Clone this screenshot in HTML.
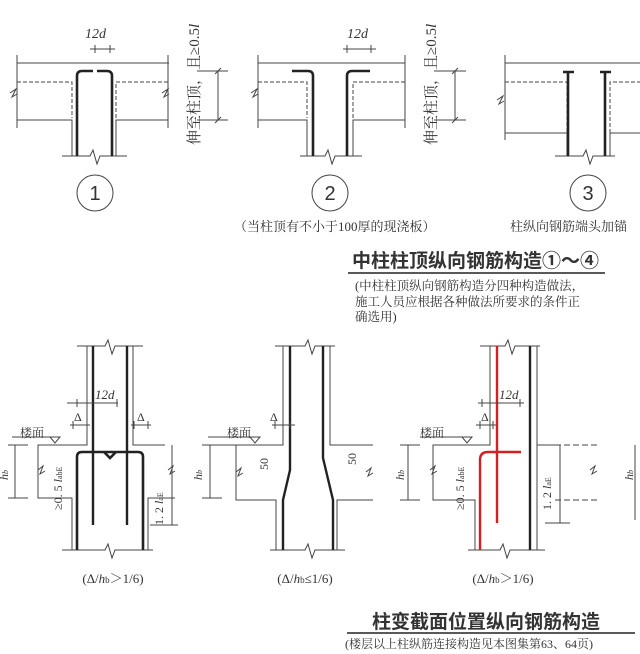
<!DOCTYPE html>
<html><head><meta charset="utf-8"><style>
html,body{margin:0;padding:0;background:#fff;}
svg{display:block;}
text{font-family:"Liberation Serif","Noto Serif CJK SC",serif;fill:#333;}
.s{font-family:"Liberation Sans","Noto Sans CJK SC",sans-serif;}
</style></head><body>
<svg width="640" height="654" viewBox="0 0 640 654" xmlns="http://www.w3.org/2000/svg">
<g fill="none" stroke="#444" stroke-width="1">
<!-- Panel 1 -->
<path d="M17 63H169M17 120H72V156M116 156V120H168M17 55V128M168 55V128"/>
<path d="M17 82H72V118M116 118V82H168" stroke-dasharray="4,2"/>
<path d="M62 156H90l3 -6 4 14 3 -8H127"/>
<path d="M10 93l6 -4 -4 8 5 -3" />
<path d="M162 93l6 -4 -4 8 5 -3" />
<path d="M77 156V76q0 -5 5 -5h11M112 156V76q0 -5 -5 -5h-10" stroke="#222" stroke-width="2.6"/>
<path d="M90 49H115M95 45V53M110 45V53"/>
<path d="M197 71H228M197 120H228M218 71V120M215 74l6 -6M215 123l6 -6"/>
<circle cx="95" cy="193" r="18"/>
<!-- Panel 2 -->
<path d="M258 63H405M258 120H307V156M353 156V120H405M405 55V128M258 55V128"/>
<path d="M258 82H307V118M353 118V82H405" stroke-dasharray="4,2"/>
<path d="M300 156H325l3 -6 4 14 3 -8H362"/>
<path d="M251 93l6 -4 -4 8 5 -3" />
<path d="M313 156V76q0 -5 -5 -5h-16M347 156V76q0 -5 5 -5h18" stroke="#222" stroke-width="2.6"/>
<path d="M343 49H376M347 45V53M371 45V53"/>
<path d="M434 71H466M434 120H466M455 71V120M452 74l6 -6M452 123l6 -6"/>
<circle cx="330" cy="193" r="18"/>
<!-- Panel 3 -->
<path d="M505 63H640M505 133H567V156M610 156V133H640M505 55V140"/>
<path d="M505 82H567V133M610 133V82H640" stroke-dasharray="4,2"/>
<path d="M555 156H583l3 -6 4 14 3 -8H615"/>
<path d="M497 100l6 -4 -4 8 5 -3" />
<path d="M568 156V72M563 72H574M605 156V72M600 72H611" stroke="#222" stroke-width="2.6"/>
<circle cx="588" cy="193" r="18"/>
<path d="M348 273H605" stroke="#222" stroke-width="1.5"/>
<path d="M347 633H635" stroke="#222" stroke-width="1.5"/>

<!-- Panel A -->
<path d="M77 346H105l3 -6 4 14 3 -8H143"/>
<path d="M87 346V445H38V498H72V550M133 346V445H165M148 550V498H175M62 550H105l3 -6 4 14 3 -8H153"/>
<path d="M12 437H58M50 437l5 6 5 -6z"/>
<path d="M93 346V525M127 346V525" stroke="#222" stroke-width="2.4"/>
<path d="M77 550V457q0 -5 5 -5h56q5 0 5 5V550M104 452l6 6 6 -6" stroke="#222" stroke-width="2.6"/>
<path d="M67 403H118M77 399V407M117 399V407M70 425H90M73 421V429M87 421V429M131 425H151M134 421V429M148 421V429"/>
<path d="M8 445H28M8 498H28M15 445V498M38 470l5 -4 -3 8 5 -3M168 470l5 -4 -3 8 5 -3M150 525H178M172 445V525"/>
<!-- Panel B -->
<path d="M275 346H305l3 -6 4 14 3 -8H335"/>
<path d="M283 346V445H208M236 445V500H276V550M330 346V445H373M337 550V500H373M270 550H305l3 -6 4 14 3 -8H345"/>
<path d="M208 437H258M250 437l5 6 5 -6z"/>
<path d="M290 346V470L283 500V550M323 346V458L333 500V550" stroke="#222" stroke-width="2.4"/>
<path d="M272 425H295M275 421V429M290 421V429"/>
<path d="M202 445H222M202 498H222M210 445V498M236 472l5 -4 -3 8 5 -3M366 472l5 -4 -3 8 5 -3"/>
<!-- Panel C -->
<path d="M480 346H505l3 -6 4 14 3 -8H540"/>
<path d="M490 346V445H433V500H475V550M537 346V445H555M468 550H500l3 -6 4 14 3 -8H545"/>
<path d="M537 550V346"/>
<path d="M555 445H600M555 500H600" stroke-dasharray="6,3"/>
<path d="M420 437H470M462 437l5 6 5 -6z"/>
<path d="M530 346V550" stroke="#222" stroke-width="2.4"/>
<path d="M497 346V523M480 550V460q0 -8 8 -8H521" stroke="#d42020" stroke-width="2.4"/>
<path d="M478 403H524M482 399V407M520 399V407M476 425H496M480 421V429M493 421V429"/>
<path d="M400 445H420M400 500H420M408 445V500M430 470l5 -4 -3 8 5 -3M590 470l5 -4 -3 8 5 -3M545 523H570M560 445V523"/>
<path d="M635 445V520"/>
</g>
<text x="85" y="38" font-size="14" font-style="italic">12d</text>
<text x="347" y="38" font-size="14" font-style="italic">12d</text>
<text transform="translate(199,145) rotate(-90)" font-size="15">伸至柱顶，且≥0.5<tspan font-style="italic">l</tspan></text>
<text transform="translate(436,145) rotate(-90)" font-size="15">伸至柱顶，且≥0.5<tspan font-style="italic">l</tspan></text>
<text class="s" x="95" y="200" font-size="20" text-anchor="middle">1</text>
<text class="s" x="330" y="200" font-size="20" text-anchor="middle">2</text>
<text class="s" x="588" y="200" font-size="20" text-anchor="middle">3</text>
<text x="234" y="231" font-size="13">（当柱顶有不小于100厚的现浇板）</text>
<text x="510" y="231" font-size="13">柱纵向钢筋端头加锚</text>
<text class="s" x="352" y="267" font-size="19" font-weight="bold" fill="#222">中柱柱顶纵向钢筋构造①～④</text>
<text x="355" y="290" font-size="12.5">(中柱柱顶纵向钢筋构造分四种构造做法，</text>
<text x="355" y="306" font-size="12.5">施工人员应根据各种做法所要求的条件正</text>
<text x="355" y="321" font-size="12.5">确选用)</text>

<text x="95" y="399" font-size="13" font-style="italic">12d</text>
<text x="74" y="421" font-size="12">Δ</text>
<text x="137" y="421" font-size="12">Δ</text>
<text x="20" y="437" font-size="12">楼面</text>
<text transform="translate(8,480) rotate(-90)" font-size="12" font-style="italic">h<tspan font-size="8">b</tspan></text>
<text transform="translate(62,510) rotate(-90)" font-size="12">≥0. 5 <tspan font-style="italic">l</tspan><tspan font-size="8">abE</tspan></text>
<text transform="translate(163,525) rotate(-90)" font-size="12">1. 2 <tspan font-style="italic">l</tspan><tspan font-size="8">aE</tspan></text>
<text x="113" y="583" font-size="13" text-anchor="middle">(Δ/<tspan font-style="italic">h</tspan><tspan font-size="9">b</tspan>＞1/6)</text>

<text x="270" y="421" font-size="12">Δ</text>
<text x="227" y="437" font-size="12">楼面</text>
<text transform="translate(202,480) rotate(-90)" font-size="12" font-style="italic">h<tspan font-size="8">b</tspan></text>
<text transform="translate(268,470) rotate(-90)" font-size="12">50</text>
<text transform="translate(356,465) rotate(-90)" font-size="12">50</text>
<text x="305" y="583" font-size="13" text-anchor="middle">(Δ/<tspan font-style="italic">h</tspan><tspan font-size="9">b</tspan>≤1/6)</text>

<text x="499" y="399" font-size="13" font-style="italic">12d</text>
<text x="481" y="421" font-size="12">Δ</text>
<text x="420" y="437" font-size="12">楼面</text>
<text transform="translate(404,480) rotate(-90)" font-size="12" font-style="italic">h<tspan font-size="8">b</tspan></text>
<text transform="translate(464,510) rotate(-90)" font-size="12">≥0. 5 <tspan font-style="italic">l</tspan><tspan font-size="8">abE</tspan></text>
<text transform="translate(551,510) rotate(-90)" font-size="12">1. 2 <tspan font-style="italic">l</tspan><tspan font-size="8">aE</tspan></text>
<text transform="translate(633,480) rotate(-90)" font-size="12" font-style="italic">h<tspan font-size="8">b</tspan></text>
<text x="503" y="583" font-size="13" text-anchor="middle">(Δ/<tspan font-style="italic">h</tspan><tspan font-size="9">b</tspan>＞1/6)</text>

<text class="s" x="372" y="628" font-size="19" font-weight="bold" fill="#222">柱变截面位置纵向钢筋构造</text>
<text x="345" y="648" font-size="12">(楼层以上柱纵筋连接构造见本图集第63、64页)</text>
</svg>
</body></html>
